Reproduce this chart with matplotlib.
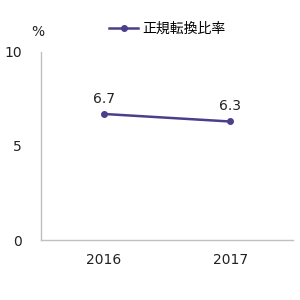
import matplotlib.pyplot as plt

plt.rcParams['font.family'] = ['DejaVu Sans', 'Noto Sans CJK JP']

years = ['2016', '2017']
ratio = [6.7, 6.3]
series_name = '正規転換比率'
yticks = [0, 5, 10]

line_color = '#4a3f8c'
axis_color = '#c0c0c0'

fig = plt.figure(figsize=(3, 3), dpi=100)
ax = fig.add_axes([0.137, 0.2, 0.84, 0.627])

x = list(range(len(years)))
ax.plot(x, ratio, color=line_color, lw=1.8, marker='o', ms=4, label=series_name)
for xi, v in zip(x, ratio):
    ax.annotate(f'{v}', (xi, v), textcoords='offset points', xytext=(0, 6),
                ha='center', va='bottom', fontsize=10, color='#222222')

ax.set_xlim(-0.5, 1.5)
ax.set_ylim(0, 10)
ax.set_xticks(x)
ax.set_xticklabels(years)
ax.set_yticks(yticks)
ax.tick_params(axis='both', length=0, labelsize=10, colors='#222222')
ax.tick_params(axis='y', pad=14)
ax.tick_params(axis='x', pad=9)

for s in ['top', 'right']:
    ax.spines[s].set_visible(False)
for s in ['left', 'bottom']:
    ax.spines[s].set_color(axis_color)
    ax.spines[s].set_linewidth(1)

fig.text(0.127, 0.895, '%', fontsize=10, color='#222222', ha='center', va='center')
ax.legend(loc='center', bbox_to_anchor=(0.5, 1.125), frameon=False, fontsize=10,
          handlelength=2.1, handletextpad=0.25, borderaxespad=0)

fig.savefig('out.png', dpi=100)
